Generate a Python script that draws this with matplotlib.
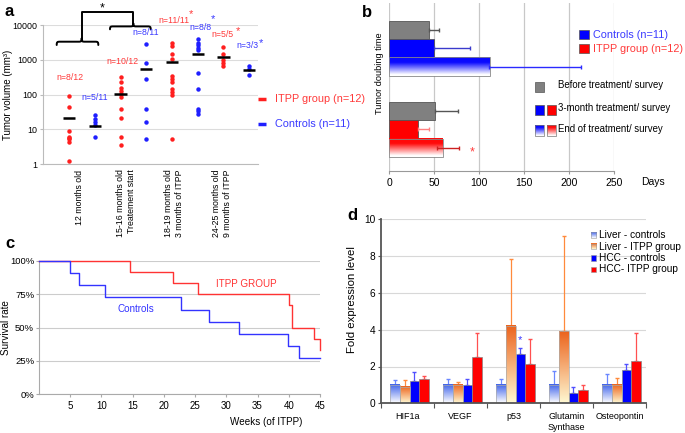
import numpy as np
import matplotlib
matplotlib.use('Agg')
import matplotlib.pyplot as plt
from matplotlib.patches import Rectangle, PathPatch
from matplotlib.path import Path
from matplotlib.colors import to_rgb
from matplotlib.ticker import NullLocator

plt.rcParams['font.family'] = ['Liberation Sans', 'DejaVu Sans']

# ---------------- data ----------------
# panel a: tumor volumes (mm3)
a_groups = ['12 months old', '15-16 months old\nTreatement start',
            '18-19 months old\n3 months of ITPP', '24-25 months old\n9 months of ITPP']
a_itpp_12 = [91, 43, 9.1, 6.1, 5.8, 5.1, 4.3, 1.2]
a_itpp_15 = [321, 235, 155, 127, 102, 84, 39, 21.6, 6.1, 3.5]
a_itpp_18 = [3130, 2570, 1450, 1040, 344, 276, 231, 142, 121, 99, 5.1]
a_itpp_24 = [2300, 1450, 1010, 830, 667]
a_ctrl_12 = [26.4, 19.4, 16.2, 13, 6.1]
a_ctrl_15 = [2800, 795, 276, 38, 16.5, 5.1]
a_ctrl_18 = [4080, 3130, 2630, 2200, 1930, 428, 142, 39, 33, 27.6]
a_ctrl_24 = [667, 540, 367]
a_itpp_mean = [20.7, 102, 870, 1210]
a_ctrl_mean = [12.7, 565, 1480, 523]
a_itpp_n = ['n=8/12', 'n=10/12', 'n=11/11', 'n=5/5']
a_ctrl_n = ['n=5/11', 'n=8/11', 'n=8/8', 'n=3/3']

# panel b: tumor doubling time (days)
b_groups = ['Controls (n=11)', 'ITPP group (n=12)']
b_before = [44.5, 51]
b_before_err = [10.5, 25]
b_3month = [50, 32]
b_3month_err = [40, 12]
b_end = [112, 60]
b_end_err_low = [1, 7]
b_end_err = [101, 18]

# panel c: survival
c_itpp_weeks = [0, 14.5, 21.5, 25.5, 40, 40.5, 44, 45]
c_itpp_surv = [1.0, 0.917, 0.833, 0.75, 0.667, 0.5, 0.417, 0.333]
c_ctrl_weeks = [0, 5, 6.4, 10.5, 22.7, 27.2, 32.1, 39.8, 41.7, 45]
c_ctrl_surv = [1.0, 0.909, 0.818, 0.727, 0.636, 0.545, 0.455, 0.364, 0.273, 0.273]

# panel d: fold expression
d_genes = ['HIF1a', 'VEGF', 'p53', 'Glutamin\nSynthase', 'Osteopontin']
d_series = ['Liver - controls', 'Liver - ITPP group', 'HCC - controls', 'HCC- ITPP group']
d_liver_ctrl = [1.0, 1.0, 1.0, 1.0, 1.0]
d_liver_ctrl_err = [0.27, 0.34, 0.3, 0.78, 0.59]
d_liver_itpp = [0.87, 1.02, 4.22, 3.91, 1.0]
d_liver_itpp_err = [0.4, 0.13, 3.62, 5.2, 0.39]
d_hcc_ctrl = [1.23, 1.0, 2.68, 0.56, 1.81]
d_hcc_ctrl_err = [0.49, 0.32, 0.35, 0.34, 0.31]
d_hcc_itpp = [1.30, 2.52, 2.16, 0.74, 2.32]
d_hcc_itpp_err = [0.17, 1.28, 1.34, 0.26, 1.48]

# ---------------- style ----------------
RED = '#ff1f1f'
BLUE = '#1f1fff'
RED_T = '#ff3a3a'
BLUE_T = '#3a3aff'

W, H = 685, 433
fig = plt.figure(figsize=(W / 100, H / 100), dpi=100)


def add_ax(l, t, r, b):
    return fig.add_axes([l / W, 1 - b / H, (r - l) / W, (b - t) / H])


def grad_img(c_top, c_bot, lo=0.0, hi=1.0, n=120):
    t = np.linspace(0, 1, n)
    f = np.clip((t - lo) / (hi - lo), 0, 1)
    ct, cb = np.array(to_rgb(c_top)), np.array(to_rgb(c_bot))
    img = cb[None, :] + (ct - cb)[None, :] * f[:, None]
    return img[:, None, :]


def grad_rect(ax, x0, x1, y0, y1, c_top, c_bot, lo=0.0, hi=1.0, ec='#888888', lw=0.6, z=2):
    ax.imshow(grad_img(c_top, c_bot, lo, hi), extent=(x0, x1, y0, y1), origin='lower',
              aspect='auto', interpolation='bilinear', zorder=z)
    ax.add_patch(Rectangle((x0, y0), x1 - x0, y1 - y0, fill=False, ec=ec, lw=lw, zorder=z + 0.05))


# ================= panel a =================
axa = add_ax(43, 25.3, 258, 164)
axa.set_yscale('log')
itpp_all = [a_itpp_12, a_itpp_15, a_itpp_18, a_itpp_24]
ctrl_all = [a_ctrl_12, a_ctrl_15, a_ctrl_18, a_ctrl_24]
for i in range(4):
    xi = i - 0.25
    xc = i + 0.25
    axa.plot(np.full(len(itpp_all[i]), xi), itpp_all[i], 'o', color=RED, ms=3.2, mec='none',
             zorder=2, clip_on=False)
    axa.plot(np.full(len(ctrl_all[i]), xc), ctrl_all[i], 'o', color=BLUE, ms=3.2, mec='none',
             zorder=2, clip_on=False)
    axa.hlines(a_itpp_mean[i], xi - 0.12, xi + 0.12, color='k', lw=1.8, zorder=3)
    axa.hlines(a_ctrl_mean[i], xc - 0.12, xc + 0.12, color='k', lw=1.8, zorder=3)
axa.set_xlim(-0.755, 3.42)
axa.set_ylim(1, 10000)
axa.yaxis.set_minor_locator(NullLocator())
axa.set_yticks([1, 10, 100, 1000, 10000])
axa.set_yticklabels(['1', '10', '100', '1000', '10000'], fontsize=6.4)
axa.yaxis.grid(True, color='#dcdcdc', lw=0.8)
axa.set_axisbelow(True)
for s in ['top', 'right']:
    axa.spines[s].set_visible(False)
for s in ['left', 'bottom']:
    axa.spines[s].set_color('#bbbbbb')
    axa.spines[s].set_linewidth(0.8)
axa.tick_params(axis='y', length=2, color='#bbbbbb', pad=2)
axa.set_xticks([-0.04, 0.86, 1.79, 2.72])
axa.set_xticklabels(a_groups, rotation=90, fontsize=6.3, linespacing=1.35)
for lbl in axa.get_xticklabels():
    lbl.set_multialignment('right')
axa.tick_params(axis='x', length=0, pad=4)

# ================= panel b =================
axb = add_ax(389.3, 3, 614, 170.7)
yc = np.array([1.0, 0.0])
h = 0.226
axb.barh(yc + h, b_before, height=h, color='#808080', ec='#555555', lw=0.6, zorder=2)
axb.barh(yc, b_3month, height=h, color=['#0000ff', '#ff0000'], ec='#555555', lw=0.6, zorder=2)
grad_tops = ['#0a0aff', '#ff0a0a']
for g in range(2):
    grad_rect(axb, 0, b_end[g], yc[g] - 1.5 * h, yc[g] - 0.5 * h, grad_tops[g], '#ffffff',
              lo=0.08, hi=0.72, ec='#888888', lw=0.6, z=2)
err_before_c = ['#555555', '#555555']
err_3m_c = ['#3a3acc', '#ff8080']
err_end_c = ['#2a2aff', '#cc2020']
for g in range(2):
    axb.errorbar(b_before[g], yc[g] + h, xerr=[[0], [b_before_err[g]]], fmt='none',
                 ecolor=err_before_c[g], elinewidth=1, capsize=1.5, zorder=3)
    axb.errorbar(b_3month[g], yc[g], xerr=[[0], [b_3month_err[g]]], fmt='none',
                 ecolor=err_3m_c[g], elinewidth=1, capsize=1.5, zorder=3)
    axb.errorbar(b_end[g], yc[g] - h, xerr=[[b_end_err_low[g]], [b_end_err[g]]], fmt='none',
                 ecolor=err_end_c[g], elinewidth=1, capsize=1.5, zorder=3)
axb.set_xlim(0, 250)
axb.set_ylim(-0.51, 1.558)
axb.set_yticks([])
axb.set_xticks([0, 50, 100, 150, 200, 250])
axb.tick_params(axis='x', labelsize=7.5, length=2, color='#999999', pad=3)
axb.xaxis.grid(True, color='#c8c8c8', lw=0.9)
axb.set_axisbelow(True)
for s in ['top', 'right', 'left']:
    axb.spines[s].set_visible(False)
axb.spines['bottom'].set_color('#999999')
axb.spines['bottom'].set_linewidth(0.8)

# ================= panel c =================
axc = add_ax(39, 261, 320, 394.3)
axc.step(c_itpp_weeks, c_itpp_surv, where='post', color='#ff3333', lw=1.0, clip_on=False, zorder=3)
axc.step(c_ctrl_weeks, c_ctrl_surv, where='post', color='#3333ff', lw=1.0, clip_on=False, zorder=3)
axc.set_xlim(0, 45)
axc.set_ylim(0, 1)
axc.set_yticks([0, 0.25, 0.5, 0.75, 1.0])
axc.set_yticklabels(['0%', '25%', '50%', '75%', '100%'], fontsize=6.8)
axc.set_xticks([5, 10, 15, 20, 25, 30, 35, 40, 45])
axc.tick_params(axis='x', labelsize=7, length=2.5, color='#aaaaaa', pad=2.5)
axc.tick_params(axis='y', length=2, color='#aaaaaa', pad=1.5)
axc.yaxis.grid(True, color='#cccccc', lw=0.8)
axc.set_axisbelow(True)
for s in ['top', 'right']:
    axc.spines[s].set_visible(False)
for s in ['left', 'bottom']:
    axc.spines[s].set_color('#aaaaaa')
    axc.spines[s].set_linewidth(0.8)

# ================= panel d =================
axd = add_ax(381, 219.3, 646, 403.3)
bw = 0.184
xg = np.arange(5)
offs = [0.17, 0.17 + bw, 0.17 + 2 * bw, 0.17 + 3 * bw]
for i in range(5):
    grad_rect(axd, xg[i] + offs[0], xg[i] + offs[0] + bw, 0, d_liver_ctrl[i],
              '#3f63ea', '#ffffff', ec='#aaaaaa', lw=0.5, z=2)
    grad_rect(axd, xg[i] + offs[1], xg[i] + offs[1] + bw, 0, d_liver_itpp[i],
              '#ec631c', '#fff8d2', ec='#aaaaaa', lw=0.5, z=2)
axd.bar(xg + offs[2], d_hcc_ctrl, width=bw, align='edge', color='#0000ff', ec='#888888', lw=0.5, zorder=2)
axd.bar(xg + offs[3], d_hcc_itpp, width=bw, align='edge', color='#ff0000', ec='#888888', lw=0.5, zorder=2)
vals = [d_liver_ctrl, d_liver_itpp, d_hcc_ctrl, d_hcc_itpp]
errs = [d_liver_ctrl_err, d_liver_itpp_err, d_hcc_ctrl_err, d_hcc_itpp_err]
ecols = ['#6a86ff', '#ff8a3c', '#5050ff', '#ff5050']
for k in range(4):
    axd.errorbar(xg + offs[k] + bw / 2, vals[k], yerr=[np.zeros(5), errs[k]], fmt='none',
                 ecolor=ecols[k], elinewidth=0.9, capsize=1.5, zorder=1.9)
axd.text(xg[2] + offs[2] + bw / 2, d_hcc_ctrl[2] + d_hcc_ctrl_err[2] + 0.15, '*', color='#3a3aff',
         fontsize=8, ha='center', va='bottom')
axd.set_xlim(0, 5)
axd.set_ylim(0, 10)
axd.set_yticks([0, 2, 4, 6, 8, 10])
axd.tick_params(axis='y', labelsize=7.3, length=2.5, color='#555555', pad=1.5)
axd.set_xticks(np.arange(6))
axd.set_xticklabels([])
axd.set_xticks(xg + 0.5, minor=True)
axd.set_xticklabels(d_genes, minor=True, fontsize=6.5, linespacing=1.3)
axd.tick_params(axis='x', which='major', length=3.5, color='#555555')
axd.tick_params(axis='x', which='minor', length=0, pad=6)
axd.yaxis.grid(True, color='#d8d8d8', lw=0.8)
axd.set_axisbelow(True)
for s in ['top', 'right']:
    axd.spines[s].set_visible(False)
for s in ['left', 'bottom']:
    axd.spines[s].set_color('#555555')
    axd.spines[s].set_linewidth(1.3)

# ================= overlay (annotations) =================
ov = fig.add_axes([0, 0, 1, 1])
ov.patch.set_visible(False)
ov.axis('off')
ov.set_zorder(5)

def star(x, yc_, color, size=8):
    ov.text(x, yc_ + 0.55 * size * 1.389, '*', color=color, fontsize=size, ha='center', va='baseline')

# panel letters
for lt, (x, y) in zip('abcd', [(5, 16), (362, 17), (5, 248), (347, 220)]):
    ov.text(x, y, lt, fontsize=12, fontweight='bold', va='baseline', ha='left')

# panel a annotations
ov.text(8, 95, 'Tumor volume (mm³)', rotation=90, fontsize=7, ha='center', va='center')
itpp_n_pos = [(70, 78), (122.5, 61), (174, 20.5), (222.5, 34.3)]
ctrl_n_pos = [(95, 97), (146, 32.3), (200, 27), (247, 45.7)]
for t, (x, y) in zip(a_itpp_n, itpp_n_pos):
    ov.text(x, y, t, color=RED_T, fontsize=6.3, ha='center', va='center')
for t, (x, y) in zip(a_ctrl_n, ctrl_n_pos):
    ov.text(x, y, t, color=BLUE_T, fontsize=6.3, ha='center', va='center')
star(190.5, 11, RED_T)
star(212.5, 16, BLUE_T)
star(238, 28, RED_T)
star(261, 40, BLUE_T)
star(101.7, 5, 'black', size=9)


def brace(x0, xm, x1, y, d, r=3.0):
    verts = [(x0, y), (x0, y - d * 0.9), (x0 + r * 0.2, y - d), (x0 + r, y - d),
             (xm - r, y - d),
             (xm - r * 0.2, y - d), (xm, y - d * 1.1), (xm, y - 2 * d),
             (xm, y - 2 * d), (xm, y - d * 1.1), (xm + r * 0.2, y - d), (xm + r, y - d),
             (x1 - r, y - d),
             (x1 - r * 0.2, y - d), (x1, y - d * 0.9), (x1, y)]
    codes = [Path.MOVETO, Path.CURVE4, Path.CURVE4, Path.CURVE4, Path.LINETO,
             Path.CURVE4, Path.CURVE4, Path.CURVE4,
             Path.MOVETO, Path.CURVE4, Path.CURVE4, Path.CURVE4, Path.LINETO,
             Path.CURVE4, Path.CURVE4, Path.CURVE4]
    ov.add_patch(PathPatch(Path(verts, codes), fill=False, ec='black', lw=1.4, capstyle='round'))

brace(56.7, 81.7, 98.3, 45, 3.3)
brace(110, 133.3, 150.7, 29.3, 2.9)
ov.plot([81.7, 81.7, 133.3, 133.3], [38.4, 11.7, 11.7, 23.5], color='black', lw=1.4,
        solid_joinstyle='round')

# legend a
ov.plot([258, 266], [99.3, 99.3], color=RED, lw=2.5, solid_capstyle='butt')
ov.text(275, 99.3, 'ITPP group (n=12)', color=RED_T, fontsize=7.8, va='center', ha='left')
ov.plot([258, 266], [124.3, 124.3], color=BLUE, lw=2.5, solid_capstyle='butt')
ov.text(275, 124.3, 'Controls (n=11)', color=BLUE_T, fontsize=7.8, va='center', ha='left')

# panel b annotations
ov.text(380, 73, 'Tumor doubing time', rotation=90, fontsize=6.6, ha='center', va='center')
ov.text(653, 181.7, 'Days', fontsize=7.5, ha='center', va='center')
star(471.7, 148.3, RED_T, size=9)
ov.add_patch(Rectangle((579, 30), 10, 9, fc='#0000ff', ec='#555555', lw=0.5))
ov.text(593, 34.5, b_groups[0], color=BLUE_T, fontsize=7.8, va='center', ha='left')
ov.add_patch(Rectangle((579, 44), 10, 9, fc='#ff0000', ec='#555555', lw=0.5))
ov.text(593, 48.5, b_groups[1], color=RED_T, fontsize=7.8, va='center', ha='left')
ov.add_patch(Rectangle((535, 82), 9, 10, fc='#808080', ec='#555555', lw=0.5))
ov.text(558, 85.5, 'Before treatment/ survey', fontsize=6.9, va='center', ha='left')
ov.add_patch(Rectangle((535, 105), 9, 9.5, fc='#0000ff', ec='#555555', lw=0.5))
ov.add_patch(Rectangle((547, 105), 9, 9.5, fc='#ff0000', ec='#555555', lw=0.5))
ov.text(558, 108, '3-month treatment/ survey', fontsize=6.9, va='center', ha='left')
grad_rect(ov, 535, 544, 136, 125, '#0a0aff', '#ffffff', lo=0.05, hi=0.8, ec='#777777', lw=0.5, z=6)
grad_rect(ov, 547, 556, 136, 125, '#ff0a0a', '#ffffff', lo=0.05, hi=0.8, ec='#777777', lw=0.5, z=6)
ov.text(558, 129.5, 'End of treatment/ survey', fontsize=6.9, va='center', ha='left')

# panel c annotations
ov.text(6, 328, 'Survival rate', rotation=90, fontsize=7.1, ha='center', va='center')
ov.text(246.5, 284.3, 'ITPP GROUP', color='#ff3333', fontsize=7.1, ha='center', va='center')
ov.text(135.5, 309, 'Controls', color='#3333ff', fontsize=7.1, ha='center', va='center')
ov.text(266, 421.7, 'Weeks (of ITPP)', fontsize=7.1, ha='center', va='center')

# panel d annotations
ov.text(352, 300, 'Fold expression level', rotation=90, fontsize=8.2, ha='center', va='center')
leg_y = [235, 246.5, 258, 269.5]
grad_rect(ov, 591, 596.5, leg_y[0] + 2.7, leg_y[0] - 2.7, '#3f63ea', '#ffffff', ec='#999999', lw=0.4, z=6)
grad_rect(ov, 591, 596.5, leg_y[1] + 2.7, leg_y[1] - 2.7, '#ec631c', '#fff8d2', ec='#999999', lw=0.4, z=6)
ov.add_patch(Rectangle((591, leg_y[2] - 2.7), 5.5, 5.4, fc='#0000ff', ec='#999999', lw=0.4, zorder=6))
ov.add_patch(Rectangle((591, leg_y[3] - 2.7), 5.5, 5.4, fc='#ff0000', ec='#999999', lw=0.4, zorder=6))
for t, y in zip(d_series, leg_y):
    ov.text(599, y, t, fontsize=7.3, va='center', ha='left')

ov.set_xlim(0, W)
ov.set_ylim(H, 0)

fig.savefig('out.png', dpi=100)
